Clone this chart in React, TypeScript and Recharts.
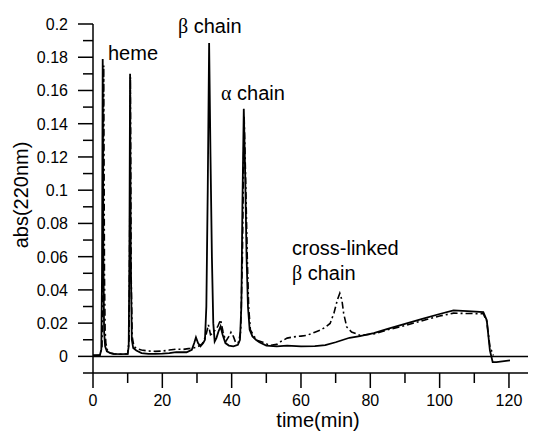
import React from "react";
import { LineChart, Line, XAxis, YAxis, ReferenceLine } from "recharts";

// Solid trace (native)
const solidTime = [0, 1, 2, 2.4, 2.6, 2.8, 3.0, 3.2, 3.5, 4, 5, 6, 8, 10, 10.3, 10.5, 10.7, 10.9, 11.2, 11.6, 12.5, 14, 16, 18, 20, 22, 24, 27, 28.5, 29.2, 29.7, 30.3, 31, 31.8, 32.3, 32.7, 33.1, 33.5, 33.9, 34.3, 34.7, 35.1, 35.6, 36.2, 36.8, 37.4, 38.2, 39.2, 40.5, 41.8, 42.4, 42.8, 43.1, 43.5, 43.9, 44.3, 44.7, 45.2, 46, 47, 48, 50, 53, 56, 60, 64, 67, 70, 74, 77, 81, 85, 90, 95, 100, 104, 108, 112.6, 113.6, 114.5, 115.3, 116.4, 120.3];
const solidAbs = [0.0006, 0.0006, 0.0008, 0.004, 0.05, 0.179, 0.06, 0.015, 0.006, 0.003, 0.002, 0.0015, 0.0013, 0.0015, 0.006, 0.06, 0.17, 0.06, 0.01, 0.005, 0.0035, 0.002, 0.0015, 0.0015, 0.0017, 0.002, 0.0025, 0.0025, 0.004, 0.008, 0.0115, 0.008, 0.006, 0.008, 0.01, 0.03, 0.1, 0.1885, 0.12, 0.06, 0.02, 0.009, 0.011, 0.015, 0.018, 0.013, 0.008, 0.0065, 0.006, 0.007, 0.01, 0.03, 0.09, 0.149, 0.11, 0.06, 0.03, 0.016, 0.012, 0.01, 0.0085, 0.0065, 0.006, 0.0065, 0.006, 0.0062, 0.0068, 0.0085, 0.0112, 0.0122, 0.014, 0.0165, 0.0195, 0.0225, 0.0255, 0.0277, 0.0272, 0.0267, 0.0217, 0.0036, -0.0034, -0.0034, -0.0024];

// Dashed trace (cross-linked)
const dashTime = [0, 2, 2.6, 2.9, 3.1, 3.3, 3.5, 3.7, 4.1, 5, 6, 8, 10, 10.4, 10.6, 10.8, 11.0, 11.3, 11.8, 12.5, 14, 16, 18, 20, 22, 24, 26, 28, 30, 31.5, 32.5, 33.3, 33.9, 34.6, 35.3, 36, 36.8, 37.5, 38.3, 39.2, 39.8, 40.5, 41.2, 42, 42.6, 43.1, 43.6, 44.0, 44.5, 44.9, 45.4, 46.5, 47.5, 49, 51, 53, 54, 56, 57.7, 60, 61.6, 64, 65.5, 67, 68.4, 69.5, 70.5, 71.2, 71.8, 72.3, 73.2, 74.6, 77, 81, 85, 90, 95, 100, 104, 108, 112.6, 113.6, 114.5, 115.5];
const dashAbs = [0.0006, 0.0008, 0.006, 0.06, 0.175, 0.05, 0.016, 0.008, 0.004, 0.002, 0.0015, 0.0013, 0.0015, 0.01, 0.08, 0.168, 0.05, 0.012, 0.006, 0.0048, 0.0038, 0.0032, 0.003, 0.0032, 0.0038, 0.0044, 0.0042, 0.0048, 0.0055, 0.0075, 0.012, 0.019, 0.013, 0.014, 0.016, 0.018, 0.022, 0.015, 0.009, 0.012, 0.0145, 0.012, 0.008, 0.0085, 0.015, 0.06, 0.145, 0.11, 0.06, 0.03, 0.016, 0.012, 0.0095, 0.0085, 0.0066, 0.0072, 0.0087, 0.011, 0.0117, 0.0122, 0.0126, 0.0145, 0.0157, 0.0175, 0.0198, 0.026, 0.034, 0.038, 0.034, 0.026, 0.0177, 0.0147, 0.0127, 0.0135, 0.016, 0.0185, 0.0215, 0.0243, 0.026, 0.0258, 0.0257, 0.021, 0.006, 0.0005];

const xTicks = [0, 10, 20, 30, 40, 50, 60, 70, 80, 90, 100, 110, 120];
const yTicks = [-0.01, 0, 0.01, 0.02, 0.03, 0.04, 0.05, 0.06, 0.07, 0.08, 0.09, 0.1, 0.11, 0.12, 0.13, 0.14, 0.15, 0.16, 0.17, 0.18, 0.19, 0.2];

const solidData = solidTime.map((t, i) => ({ t, v: solidAbs[i] }));
const dashData = dashTime.map((t, i) => ({ t, v: dashAbs[i] }));

const FONT = "Arial, 'Liberation Sans', sans-serif";
const GREEK = "'Liberation Serif', 'Times New Roman', serif";

const XTick = (props: any) => {
  const { x, y, payload } = props;
  const v = payload.value;
  const major = v % 20 === 0;
  return (
    <g>
      <line x1={x} x2={x} y1={y} y2={y + (major ? 15 : 10)} stroke="#000" strokeWidth={1.5} />
      {major && (
        <text x={x} y={y + 33} textAnchor="middle" fontSize={16} fontFamily={FONT} fill="#000">
          {v}
        </text>
      )}
    </g>
  );
};

const YTick = (props: any) => {
  const { x, y, payload } = props;
  const v = payload.value;
  const n = Math.round(v * 100);
  const major = n >= 0 && n % 2 === 0;
  return (
    <g>
      <line x1={x - (major ? 15 : 10)} x2={x} y1={y} y2={y} stroke="#000" strokeWidth={1.5} />
      {major && (
        <text x={x - 25} y={y + 6} textAnchor="end" fontSize={16} fontFamily={FONT} fill="#000">
          {String(Number(v.toFixed(2)))}
        </text>
      )}
    </g>
  );
};

export default function App() {
  return (
    <div style={{ position: "relative", width: 528, height: 428 }}>
      <LineChart width={528} height={428} margin={{ top: 16, right: 0, bottom: 0, left: 0 }}>
        <XAxis
          dataKey="t"
          type="number"
          domain={[0, 127.8]}
          ticks={xTicks}
          interval={0}
          tickLine={false}
          tickSize={0}
          tickMargin={0}
          tick={<XTick />}
          axisLine={{ stroke: "#000", strokeWidth: 1.5 }}
          height={63}
          allowDataOverflow
        />
        <YAxis
          type="number"
          domain={[-0.01, 0.2]}
          ticks={yTicks}
          interval={0}
          tickLine={false}
          tickSize={0}
          tickMargin={0}
          tick={<YTick />}
          axisLine={{ stroke: "#000", strokeWidth: 1.5 }}
          width={85}
          allowDataOverflow
        />
        <ReferenceLine y={0} stroke="#000" strokeWidth={1.5} />
        <Line
          data={dashData}
          dataKey="v"
          type="linear"
          stroke="#000"
          strokeWidth={1.6}
          strokeDasharray="7 3 2 3"
          dot={false}
          isAnimationActive={false}
        />
        <Line
          data={solidData}
          dataKey="v"
          type="linear"
          stroke="#000"
          strokeWidth={1.8}
          dot={false}
          isAnimationActive={false}
        />
      </LineChart>
      <svg
        width={528}
        height={428}
        style={{ position: "absolute", left: 0, top: 0, pointerEvents: "none" }}
      >
        <g fontFamily={FONT} fontSize={20} fill="#000">
          <text x={100} y={52}>heme</text>
          <text x={170} y={25}>
            <tspan fontFamily={GREEK}>β</tspan> chain
          </text>
          <text x={213} y={92}>
            <tspan fontFamily={GREEK}>α</tspan> chain
          </text>
          <text x={284} y={247}>cross-linked</text>
          <text x={284} y={272}>
            <tspan fontFamily={GREEK}>β</tspan> chain
          </text>
          <text x={310} y={419} textAnchor="middle">time(min)</text>
          <text x={20} y={187} textAnchor="middle" transform="rotate(-90 20 187)">abs(220nm)</text>
        </g>
      </svg>
    </div>
  );
}
